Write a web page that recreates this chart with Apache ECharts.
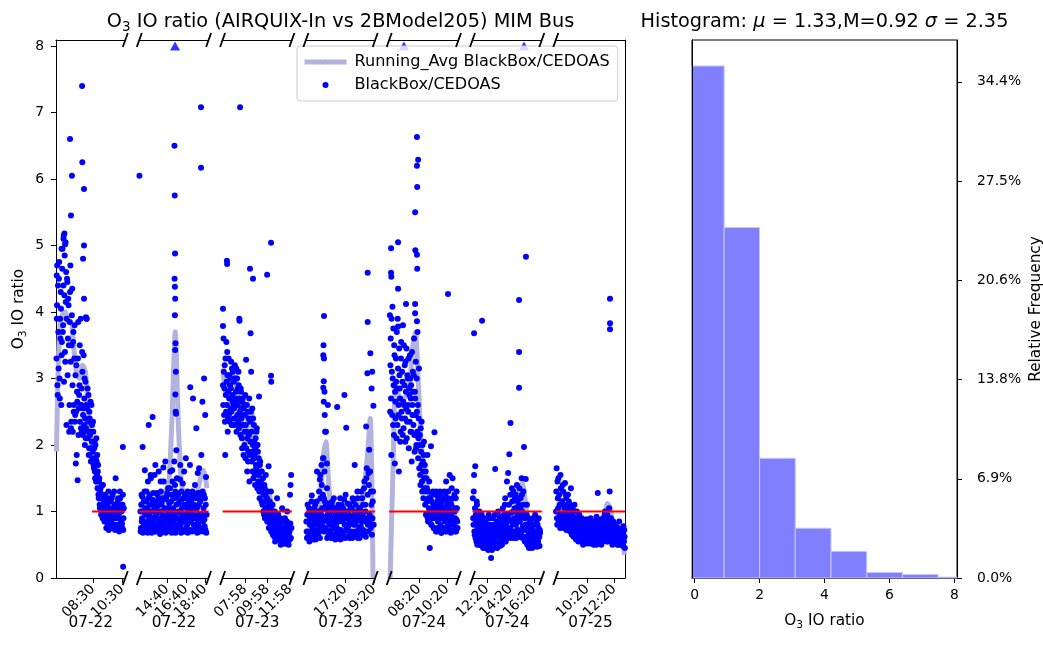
<!DOCTYPE html>
<html>
<head>
<meta charset="utf-8">
<script src="https://cdn.jsdelivr.net/npm/echarts@6/dist/echarts.min.js"></script>
<style>
  html, body { margin: 0; padding: 0; background: #fff; }
  #chart { width: 1043px; height: 655px; }
</style>
</head>
<body>
<div id="chart"></div>
<script>
// ---------------- data ----------------
// one entry per measurement period shown on the broken time axis
const segmentDates = ['07-22', '07-22', '07-23', '07-23', '07-24', '07-24', '07-25'];
const segmentWindows = [['05:57', '10:44'], ['11:45', '19:03'], ['05:59', '12:08'], ['14:38', '19:25'],
                        ['06:12', '11:09'], ['11:06', '17:00'], ['08:01', '13:09']];
const segmentTicks = [['08:30', '10:30'], ['14:40', '16:40', '18:40'], ['07:58', '09:58', '11:58'],
                      ['17:20', '19:20'], ['08:20', '10:20'], ['12:20', '14:20', '16:20'], ['10:20', '12:20']];

// regularly sampled O3 indoor/outdoor ratios (start time, step in minutes, values);
// the "b" arrays hold the readings taken half a step later
const sampleStart = ['05:59', '11:52', '06:01', '14:40', '06:16', '11:08', '08:02'];
const sampleStep = [2.5, 3.5, 3, 2.5, 2.5, 3, 2.65];

const ratio1 = [
  3.3, 4.1, 2.75, 3.7, 4.5, 3.0, 3.9, 4.3, 2.6, 3.55,
  4.95, 3.8, 5.15, 4.25, 3.4, 5.05, 4.6, 3.9, 4.45, 3.6,
  4.1, 2.2, 3.85, 4.7, 2.25, 3.5, 4.35, 2.2, 3.7, 2.6,
  3.8, 2.45, 1.72, 3.2, 2.8, 1.47, 3.85, 2.55, 2.9, 2.35,
  3.9, 2.6, 2.2, 3.1, 2.45, 3.35, 2.7, 2.0, 2.95, 2.25,
  3.9, 2.55, 2.1, 2.75, 1.95, 2.4, 2.2, 1.75, 2.6, 2.3,
  1.9, 2.2, 1.65, 2.05, 1.5, 1.8, 2.1, 1.55, 1.35, 1.7,
  1.2, 1.5, 1.05, 1.35, 0.95, 1.25, 1.1, 1.4, 0.9, 1.15,
  1.0, 0.85, 1.2, 0.95, 1.1, 0.8, 1.3, 0.9, 1.05, 0.75,
  1.15, 0.85, 1.0, 1.25, 0.78, 0.95, 1.1, 0.72, 1.5, 0.9,
  1.05, 0.8, 1.2, 0.95, 0.7, 1.3, 1.0, 0.85, 1.1, 0.75, 1.25, 0.9];
const ratio1b = [
  3.9, 2.9, 4.4, 3.15, 4.75, 2.7, 3.6, 4.05, 3.35, 4.65,
  3.7, 4.4, 2.95, 4.85, 3.25, 4.15, 2.3, 4.5, 3.05, 4.2,
  3.5, 2.6, 4.3, 3.25, 2.35, 3.95, 2.9, 3.55, 2.5, 3.3,
  2.35, 3.05, 2.5, 1.85, 2.65, 3.3, 2.15, 2.75, 3.5, 2.6,
  2.25, 2.85, 3.4, 2.15, 2.55, 2.3, 3.0, 2.4, 2.1, 2.6,
  2.2, 2.85, 2.35, 1.85, 2.5, 2.15, 2.65, 1.95, 2.05, 1.8,
  2.35, 1.7, 1.95, 1.6, 2.0, 1.45, 1.75, 1.85, 1.6, 1.25,
  1.45, 1.1, 1.3, 1.2, 1.0, 1.4, 0.9, 1.2, 1.05, 0.85,
  1.25, 0.95, 0.75, 1.1, 0.85, 1.2, 0.72, 1.0, 1.15, 0.8,
  0.92, 1.2, 0.75, 1.05, 0.9, 1.3, 0.8, 1.0, 1.1, 0.74,
  0.95, 1.15, 0.78, 1.05, 0.9, 1.2, 0.75, 1.0, 0.82, 1.1, 0.72, 1.05];
const ratio2 = [
  1.0, 0.75, 1.25, 0.9, 1.97, 0.7, 1.15, 0.85, 1.62, 1.05,
  0.8, 1.3, 0.95, 0.68, 1.2, 2.3, 0.9, 1.1, 0.75, 1.5,
  1.0, 0.72, 2.42, 1.28, 0.85, 1.05, 0.7, 1.7, 0.95, 1.15,
  0.8, 1.25, 0.9, 1.6, 0.72, 1.1, 0.85, 1.3, 1.0, 0.7,
  1.2, 0.88, 1.45, 0.75, 1.05, 1.75, 0.9, 1.22, 0.7, 1.0,
  1.35, 0.8, 1.12, 0.95, 1.6, 0.74, 1.25, 0.9, 1.45, 1.05,
  0.85, 1.2, 0.95, 1.3, 0.8, 1.1, 1.5, 0.9, 1.25, 0.75,
  1.15, 0.9, 1.7, 0.8, 1.3, 1.05, 0.72, 1.2, 0.95, 1.6,
  0.85, 1.25, 1.8, 0.75, 1.05, 1.3, 0.9, 1.15, 0.7, 1.0,
  2.87, 0.85, 1.2, 0.95, 1.3, 2.7, 0.8, 1.1, 0.9, 1.25,
  0.75, 2.25, 1.05, 0.88, 1.28, 0.95, 1.65, 0.7, 1.15, 0.9,
  1.85, 1.2, 2.65, 0.85, 1.05, 3.0, 0.78, 2.45, 1.1, 0.68];
const ratio2b = [
  0.7, 1.1, 0.85, 1.22, 0.68, 1.0, 0.8, 1.3, 0.95, 0.72,
  1.15, 0.78, 1.05, 1.45, 0.85, 0.7, 1.25, 0.92, 1.55, 0.82,
  0.68, 1.18, 0.9, 0.75, 1.1, 1.55, 0.8, 1.02, 0.7, 1.28,
  1.08, 0.74, 1.2, 0.88, 1.0, 0.66, 1.45, 0.78, 1.12, 0.95,
  0.8, 1.66, 0.7, 1.05, 0.92, 0.68, 1.18, 0.82, 1.28, 0.88,
  0.72, 1.05, 0.95, 1.35, 0.78, 1.15, 0.68, 1.62, 0.85, 1.2,
  1.0, 0.72, 1.4, 0.68, 1.22, 0.9, 0.75, 1.28, 1.0, 1.12,
  0.82, 1.48, 0.98, 0.68, 1.18, 0.86, 1.42, 0.9, 0.7, 1.1,
  1.25, 0.7, 0.95, 1.2, 0.8, 0.68, 1.28, 0.85, 1.1, 1.7,
  0.72, 1.15, 0.9, 0.7, 1.05, 1.25, 0.95, 0.72, 1.4, 0.8,
  1.2, 0.9, 0.68, 1.58, 0.8, 1.1, 0.72, 1.25, 0.92, 1.28,
  0.75, 0.95, 1.3, 0.7, 1.25, 0.88, 1.2, 0.72, 1.52, 0.95];
const ratio3 = [
  2.9, 3.6, 2.45, 3.2, 1.85, 2.75, 3.55, 2.6, 3.05, 2.4,
  3.3, 2.7, 2.35, 3.0, 2.85, 2.5, 3.15, 2.65, 2.3, 2.95,
  2.55, 3.2, 2.4, 2.8, 2.2, 3.0, 2.6, 2.35, 2.9, 3.9,
  2.5, 2.15, 2.8, 2.4, 1.95, 2.7, 2.3, 2.55, 2.0, 2.45,
  1.8, 3.28, 2.2, 1.6, 2.5, 1.9, 2.15, 1.45, 2.35, 3.68,
  3.1, 1.75, 2.55, 2.0, 1.5, 2.3, 1.85, 1.4, 2.1, 1.65,
  2.25, 1.35, 1.9, 1.55, 2.73, 1.2, 1.75, 1.45, 1.3, 1.6,
  1.1, 1.5, 1.25, 0.95, 1.35, 1.05, 1.55, 0.9, 1.2, 1.3,
  0.85, 1.68, 1.0, 1.15, 0.8, 1.3, 0.75, 0.95, 1.1, 0.7,
  0.9, 0.62, 1.0, 0.75, 0.85, 0.6, 1.2, 0.7, 0.95, 0.58,
  0.8, 0.65, 0.9, 0.55, 0.75, 1.05, 0.6, 0.85, 0.52, 0.7,
  0.9, 0.58, 0.75, 0.65, 1.0, 0.55, 0.8, 0.62, 0.7, 1.25, 1.4, 1.55];
const ratio3b = [
  2.6, 3.1, 2.85, 2.35, 3.3, 2.5, 2.95, 3.4, 2.2, 2.8,
  2.45, 3.05, 2.9, 2.55, 3.25, 2.3, 2.75, 3.1, 2.6, 2.4,
  3.0, 2.7, 2.3, 3.15, 2.65, 2.45, 2.85, 3.1, 2.25, 2.7,
  2.3, 2.85, 2.55, 2.1, 2.65, 2.45, 1.85, 2.6, 2.2, 2.75,
  2.3, 1.95, 2.6, 2.1, 1.75, 2.4, 2.7, 1.85, 2.05, 2.5,
  2.2, 1.9, 1.6, 2.4, 1.8, 2.05, 1.55, 1.95, 1.7, 2.2,
  1.6, 2.0, 1.45, 1.8, 1.3, 1.7, 1.4, 1.6, 1.15, 1.35,
  1.35, 1.0, 1.15, 1.4, 0.9, 1.25, 1.0, 1.2, 0.85, 1.05,
  1.1, 0.75, 0.95, 0.85, 1.05, 0.7, 0.9, 0.8, 0.65, 0.95,
  0.75, 0.85, 0.55, 0.8, 0.68, 0.92, 0.58, 0.75, 0.62, 0.85,
  0.6, 0.78, 0.5, 0.72, 0.62, 0.55, 0.88, 0.6, 0.7, 0.52,
  0.65, 0.78, 0.52, 0.85, 0.6, 0.72, 0.5, 0.68, 0.58, 0.82, 0.6, 0.75];
const ratio4 = [
  0.85, 0.6, 1.1, 0.7, 0.95, 0.55, 0.8, 1.0, 0.65, 1.24,
  0.75, 0.9, 0.58, 1.05, 0.7, 0.85, 0.62, 1.15, 0.8, 0.95,
  0.68, 1.3, 0.9, 1.55, 0.75, 1.7, 1.05, 0.85, 1.8, 1.2,
  0.9, 2.2, 1.1, 0.7, 1.35, 0.95, 0.62, 1.05, 0.8, 0.7,
  1.0, 0.6, 0.85, 1.15, 0.65, 0.9, 0.75, 1.05, 0.58, 0.8,
  0.95, 2.57, 0.7, 1.1, 0.62, 0.88, 1.2, 0.72, 0.95, 0.6,
  0.85, 1.05, 0.68, 2.75, 0.9, 1.25, 2.26, 0.75, 1.0, 0.62,
  0.82, 1.1, 0.65, 0.92, 0.7, 1.05, 0.6, 0.88, 1.15, 0.7,
  1.7, 0.8, 1.0, 0.65, 0.9, 1.2, 0.72, 0.95, 0.6, 1.05,
  0.78, 1.3, 0.85, 0.65, 1.1, 0.9, 1.45, 0.7, 1.0, 2.28,
  1.65, 3.08, 0.8, 1.58, 1.93, 0.95, 3.38, 1.3, 2.85, 3.1, 1.15, 2.59];
const ratio4b = [
  0.7, 0.95, 0.62, 0.85, 1.05, 0.68, 0.9, 0.58, 1.15, 0.78,
  0.95, 0.6, 0.82, 0.7, 1.1, 0.58, 0.88, 0.72, 1.0, 0.62,
  0.85, 1.0, 0.6, 1.2, 0.95, 1.4, 0.8, 1.25, 0.7, 1.05,
  1.15, 0.75, 0.92, 1.05, 0.6, 0.85, 1.12, 0.66, 0.95, 0.85,
  0.72, 0.9, 1.08, 0.6, 0.8, 1.2, 0.62, 0.88, 0.95, 0.68,
  0.75, 1.05, 0.6, 0.85, 1.0, 0.7, 0.58, 0.92, 1.1, 0.66,
  0.95, 0.7, 1.18, 0.8, 0.6, 1.0, 0.72, 0.9, 1.12, 0.78,
  0.95, 0.6, 0.85, 1.05, 0.68, 0.9, 1.2, 0.64, 0.8, 0.95,
  0.62, 1.1, 0.85, 0.7, 1.3, 0.6, 0.88, 1.05, 0.75, 0.92,
  1.0, 0.68, 1.2, 0.95, 0.72, 1.35, 0.85, 1.1, 0.62, 1.5,
  0.9, 1.25, 0.7, 1.4, 0.85, 1.6, 0.75, 1.1, 0.65, 0.9, 1.3, 0.8];
const ratio5 = [
  2.5, 3.6, 1.85, 3.1, 4.08, 2.3, 2.9, 3.5, 1.72, 2.65,
  3.3, 2.1, 2.85, 3.9, 2.45, 1.6, 3.05, 2.7, 2.2, 3.55,
  2.4, 2.95, 3.8, 2.25, 2.6, 3.2, 2.05, 2.8, 3.45, 2.35,
  3.0, 2.5, 1.95, 2.75, 3.35, 2.2, 2.9, 1.75, 2.6, 3.1,
  2.3, 3.6, 1.9, 2.7, 3.25, 2.0, 2.5, 3.7, 1.8, 2.4,
  1.65, 2.15, 1.4, 1.9, 2.35, 1.3, 1.75, 1.2, 2.05, 1.5,
  1.1, 1.6, 0.95, 1.35, 1.85, 0.85, 1.2, 1.45, 0.45, 1.0,
  1.98, 0.8, 1.25, 0.95, 1.1, 0.75, 2.19, 1.05, 0.9, 1.3,
  0.7, 1.15, 0.85, 1.0, 1.25, 0.72, 0.95, 1.1, 0.68, 1.2,
  0.9, 1.05, 0.75, 1.3, 0.85, 1.0, 1.45, 0.7, 1.15, 0.9,
  1.2, 0.78, 1.55, 0.95, 0.68, 1.1, 0.85, 1.5, 1.0, 0.72,
  1.25, 0.9, 1.05, 0.7, 1.3, 0.85];
const ratio5b = [
  3.2, 2.7, 3.9, 2.45, 3.0, 3.75, 2.15, 3.35, 2.8, 2.4,
  2.95, 3.7, 2.3, 3.15, 2.6, 3.45, 2.85, 2.05, 3.3, 2.5,
  3.1, 2.15, 2.65, 3.5, 2.9, 2.4, 3.25, 2.55, 2.1, 3.05,
  2.6, 3.3, 2.85, 2.35, 3.0, 2.7, 2.2, 3.4, 2.45, 2.8,
  3.05, 2.15, 2.8, 2.45, 1.95, 3.0, 2.2, 2.6, 2.1, 3.15,
  2.0, 1.55, 2.25, 1.7, 1.45, 2.0, 1.6, 1.85, 1.35, 1.7,
  1.3, 0.95, 1.5, 1.15, 0.9, 1.3, 1.05, 0.85, 1.2, 0.95,
  0.8, 1.15, 0.9, 1.3, 0.75, 1.05, 0.95, 1.25, 0.7, 1.1,
  1.0, 0.75, 1.2, 0.88, 1.05, 1.3, 0.8, 0.68, 1.15, 0.92,
  1.2, 0.72, 1.0, 0.88, 1.25, 0.7, 0.95, 1.1, 0.78, 1.3,
  0.85, 1.05, 0.72, 1.15, 0.95, 1.35, 0.7, 0.9, 1.2, 0.8,
  1.0, 0.7, 1.2, 0.88, 1.05, 0.75];
const ratio6 = [
  1.2, 0.8, 1.55, 0.65, 1.68, 0.95, 0.55, 1.1, 0.75, 0.9,
  0.6, 1.0, 0.5, 0.85, 0.7, 0.95, 0.48, 0.8, 0.62, 0.9,
  0.55, 0.75, 0.45, 0.88, 0.6, 0.7, 0.42, 0.95, 0.58, 0.8,
  0.5, 0.3, 0.72, 0.62, 0.9, 0.45, 0.68, 0.55, 1.64, 0.78,
  0.6, 0.85, 0.5, 1.0, 0.65, 0.75, 0.48, 0.92, 0.7, 0.58,
  0.8, 1.05, 0.62, 0.95, 0.72, 1.2, 0.55, 0.85, 1.45, 0.68,
  1.58, 0.9, 1.86, 0.75, 2.33, 0.98, 0.62, 1.15, 0.8, 1.3,
  0.7, 1.05, 0.88, 1.25, 0.6, 1.4, 0.95, 0.72, 1.1, 1.35,
  0.85, 1.2, 0.68, 1.5, 1.0, 0.78, 1.3, 1.97, 0.9, 0.62,
  1.49, 0.8, 1.1, 0.55, 0.7, 0.9, 0.48, 0.65, 0.82, 0.52,
  0.75, 0.45, 0.9, 0.6, 0.7, 0.5, 0.95, 0.58, 0.68, 0.47,
  0.8, 0.55, 0.9, 0.62, 0.72];
const ratio6b = [
  0.9, 1.3, 0.7, 1.05, 0.6, 0.85, 1.15, 0.5, 0.95, 0.68,
  0.8, 0.5, 0.72, 0.95, 0.58, 0.82, 0.66, 0.45, 0.75, 0.55,
  0.88, 0.5, 0.68, 0.58, 0.8, 0.45, 0.62, 0.72, 0.5, 0.9,
  0.65, 0.78, 0.42, 0.58, 0.48, 0.8, 0.55, 0.95, 0.62, 0.5,
  0.72, 0.45, 0.68, 0.8, 0.52, 0.9, 0.6, 0.7, 0.82, 0.5,
  0.65, 0.75, 0.9, 0.55, 1.1, 0.68, 0.82, 0.6, 0.95, 0.75,
  0.65, 1.1, 0.7, 1.25, 0.6, 0.85, 1.35, 0.7, 1.0, 0.6,
  0.9, 1.2, 0.65, 0.8, 1.0, 0.72, 1.15, 0.62, 0.9, 0.7,
  1.05, 0.62, 0.92, 1.25, 0.6, 1.1, 0.72, 0.95, 0.55, 0.8,
  0.6, 0.95, 0.5, 0.78, 0.62, 0.45, 0.7, 0.85, 0.55, 0.65,
  0.5, 0.72, 0.58, 0.8, 0.48, 0.62, 0.7, 0.52, 0.85, 0.6,
  0.5, 0.75, 0.62, 0.48, 0.68];
const ratio7 = [
  1.0, 1.65, 0.8, 1.2, 1.5, 0.9, 1.1, 0.75, 1.35, 0.95,
  1.15, 0.85, 1.3, 0.78, 1.05, 1.43, 0.9, 1.2, 0.82, 1.0,
  1.25, 0.72, 0.95, 1.1, 0.8, 1.35, 0.88, 0.7, 1.05, 0.92,
  0.75, 1.1, 0.65, 0.9, 0.8, 1.0, 0.6, 0.85, 0.72, 0.95,
  0.62, 0.8, 0.7, 0.9, 0.58, 0.75, 0.85, 0.55, 0.68, 0.8,
  0.6, 0.72, 0.88, 0.52, 0.7, 0.82, 0.6, 0.65, 0.9, 0.55,
  0.75, 0.62, 0.85, 0.5, 0.7, 0.8, 0.58, 0.66, 0.92, 0.6,
  1.28, 0.7, 0.55, 0.85, 0.62, 0.75, 0.5, 0.8, 0.65, 0.9,
  0.58, 0.72, 1.0, 0.6, 0.85, 0.68, 0.95, 0.55, 0.8, 1.05,
  1.3, 0.7, 0.9, 0.6, 0.78, 0.52, 0.85, 0.65, 0.72, 0.55,
  0.8, 0.6, 0.7, 0.5, 0.75, 0.62, 0.85, 0.55, 0.68, 0.58,
  0.72, 0.5, 0.65, 0.78, 0.55, 0.62];
const ratio7b = [
  1.3, 0.9, 1.45, 1.05, 0.85, 1.25, 0.95, 1.55, 0.8, 1.15,
  0.92, 1.4, 0.75, 1.1, 0.95, 0.8, 1.25, 0.72, 1.05, 0.9,
  0.78, 1.15, 0.85, 0.7, 1.0, 0.82, 0.65, 0.95, 0.75, 0.62,
  0.9, 0.7, 0.85, 0.58, 0.75, 0.65, 0.9, 0.55, 0.8, 0.68,
  0.75, 0.55, 0.85, 0.62, 0.78, 0.5, 0.68, 0.72, 0.6, 0.88,
  0.7, 0.55, 0.65, 0.8, 0.58, 0.62, 0.75, 0.52, 0.7, 0.82,
  0.6, 0.7, 0.55, 0.78, 0.62, 0.58, 0.85, 0.5, 0.72, 0.65,
  0.8, 0.6, 0.75, 0.52, 0.7, 0.88, 0.62, 0.56, 0.78, 0.68,
  0.72, 0.95, 0.62, 0.8, 0.55, 0.7, 0.88, 0.65, 0.75, 0.6,
  0.82, 0.58, 0.68, 0.78, 0.5, 0.72, 0.6, 0.8, 0.55, 0.7,
  0.62, 0.52, 0.75, 0.6, 0.5, 0.68, 0.58, 0.72, 0.5, 0.65,
  0.55, 0.7, 0.48, 0.6, 0.72, 0.45];
const ratios = [ratio1, ratio2, ratio3, ratio4, ratio5, ratio6, ratio7];
const ratiosB = [ratio1b, ratio2b, ratio3b, ratio4b, ratio5b, ratio6b, ratio7b];

// isolated high readings [time, ratio]
const extra1 = [['07:45', 7.4], ['06:55', 6.6], ['07:46', 6.25], ['07:03', 6.05], ['07:53', 5.85], ['06:59', 5.45],
  ['07:53', 5.0], ['07:49', 4.8], ['07:53', 4.2], ['08:01', 3.92], ['08:03', 3.9], ['06:32', 5.18], ['06:28', 5.1],
  ['06:35', 5.02], ['06:20', 4.95], ['06:02', 4.7], ['06:00', 4.55], ['10:34', 1.97], ['10:35', 0.17]];
const extra2 = [['11:46', 6.05], ['15:27', 6.5], ['15:29', 5.75], ['15:31', 4.88], ['15:28', 4.5], ['15:30', 4.38],
  ['15:32', 4.2], ['15:30', 3.95], ['15:34', 3.53], ['15:32', 3.43], ['15:36', 3.1], ['15:33', 2.76], ['15:35', 2.5],
  ['15:37', 2.47], ['15:39', 1.92], ['15:26', 1.75], ['18:15', 7.08], ['18:15', 6.17]];
const extra3 = [['06:22', 4.77], ['06:23', 4.72], ['06:01', 4.05], ['06:01', 3.79], ['07:32', 7.08], ['07:29', 3.87],
  ['08:25', 4.65], ['08:41', 4.5], ['09:56', 4.56], ['10:17', 5.04], ['10:17', 3.04], ['10:18', 2.95]];
const extra4 = [['15:53', 3.94], ['15:51', 3.5], ['15:50', 3.35], ['15:53', 3.3], ['15:52', 2.96], ['15:50', 2.86],
  ['15:55', 2.8], ['15:52', 2.65], ['16:09', 2.6], ['15:56', 2.45], ['16:01', 2.2], ['15:49', 1.8], ['16:05', 1.72],
  ['15:55', 1.6], ['15:36', 1.48], ['15:24', 1.6], ['18:54', 4.59], ['18:54', 3.85]];
const extra5 = [['06:20', 4.96], ['06:50', 5.05], ['06:20', 4.59], ['06:21', 4.53], ['06:50', 4.35], ['07:24', 4.12],
  ['08:03', 4.12], ['08:03', 3.98], ['08:11', 3.86], ['06:15', 3.95], ['06:50', 3.78], ['08:11', 6.63], ['08:16', 6.29],
  ['08:11', 6.2], ['08:12', 5.88], ['08:03', 5.5], ['08:04', 4.93], ['08:11', 4.86], ['08:12', 4.65], ['10:24', 4.27]];
const extra6 = [['11:14', 3.68], ['11:55', 3.87], ['15:04', 4.18], ['15:04', 3.4], ['15:04', 2.86], ['15:39', 4.83]];
const extra7 = [['12:02', 4.2], ['12:02', 3.83], ['12:02', 3.74]];
const extras = [extra1, extra2, extra3, extra4, extra5, extra6, extra7];

// readings above the plotted range: [segment number, time]
const overflow = [[2, '15:31'], [5, '07:15'], [6, '15:29']];

// running average (start time, step in minutes, values)
const avgStart = ['05:59', '11:52', '06:01', '14:40', '06:16', '11:08', '08:02'];
const avgStep = [12, 20, 15, 11.5, 12, 14, 12.7];
const avg1 = [1.9, 3.7, 3.95, 4.0, 3.85, 3.85, 3.45, 3.05, 3.0, 3.2, 3.1, 2.5, 2.05, 1.8, 1.45, 1.17, 1.02, 1.0, 1.0, 0.98, 1.02, 0.97, 1.0, 1.0];
const avg2 = [1.05, 1.1, 1.15, 1.2, 1.15, 1.1, 1.2, 1.25, 1.3, 1.45, 2.4, 3.7, 2.3, 1.4, 1.25, 1.2, 1.25, 1.2, 1.3, 1.5, 1.62, 1.35];
const avg3 = [3.15, 2.75, 2.85, 3.0, 3.1, 2.8, 2.55, 2.2, 2.05, 2.45, 2.55, 1.95, 1.65, 1.55, 1.4, 1.3, 1.3, 1.15, 0.95, 0.85, 0.8, 0.75, 0.72, 0.7, 0.68];
const avg4 = [0.85, 0.8, 0.82, 0.88, 0.95, 1.2, 1.8, 2.05, 1.45, 0.95, 0.88, 0.85, 0.9, 0.95, 0.92, 0.95, 0.9, 1.0, 0.95, 1.05, 1.2, 1.45, 1.85, 2.4, 0];
const avg5 = [0, 1.6, 2.9, 2.75, 2.6, 2.7, 2.75, 2.9, 3.45, 3.7, 3.0, 2.1, 1.65, 1.4, 1.25, 1.15, 1.08, 1.05, 1.0, 0.98, 1.0, 1.02, 0.98, 0.95, 0.95];
const avg6 = [0.95, 0.85, 0.75, 0.7, 0.65, 0.62, 0.6, 0.62, 0.65, 0.7, 0.72, 0.78, 0.82, 0.88, 0.95, 1.0, 1.1, 1.3, 1.43, 1.2, 0.85, 0.7, 0.65, 0.62, 0.6, 0.6];
const avg7 = [0.95, 1.0, 1.0, 0.95, 0.92, 0.9, 0.85, 0.8, 0.78, 0.75, 0.74, 0.72, 0.72, 0.73, 0.74, 0.75, 0.78, 0.85, 1.12, 1.05, 0.8, 0.7, 0.65, 0.55, 0.35];
const avgs = [avg1, avg2, avg3, avg4, avg5, avg6, avg7];

// reference ratio of 1 drawn over these spans
const refLevel = 1;
const refSpans = [['08:26', '10:44'], ['11:45', '19:03'], ['05:59', '12:08'], ['14:38', '19:25'],
                  ['06:12', '11:09'], ['11:06', '17:00'], ['08:01', '13:09']];

const ratioTicks = [0, 1, 2, 3, 4, 5, 6, 7, 8];

// histogram of all ratios
const binEdges = [-0.19, 0.91, 2.0, 3.1, 4.2, 5.3, 6.4, 7.5, 8.6];
const binFreq = [35.5, 24.3, 8.3, 3.45, 1.85, 0.38, 0.24, 0.06];   // percent
const freqTicks = [0, 6.88, 13.76, 20.64, 27.52, 34.4];
const histTicks = [0, 2, 4, 6, 8];

// ---------------- layout ----------------
const FONT = 'DejaVu Sans';
const FS = 13.9;        // tick labels
const FS_LABEL = 15.3;  // axis names and dates
const FS_LEGEND = 16.1;
const FS_TITLE = 19.3;
const TOP = 40, HEIGHT = 538;
const PANEL_LEFT = 56, SEG_W = 69.3, SEG_GAP = 14;
const Y_MAX = 8.09;
const BLUE = '#0000ff';
const AVG_COLOR = '#b3b3dd';

const toMin = s => { const p = s.split(':').map(Number); return p[0] * 60 + p[1]; };
const hhmm = v => {
  const m = Math.round(v);
  return String(Math.floor(m / 60)).padStart(2, '0') + ':' + String(m % 60).padStart(2, '0');
};
const subRich = {
  n: { fontFamily: FONT, fontSize: FS_LABEL, color: '#000', lineHeight: 20 },
  s: { fontFamily: FONT, fontSize: FS_LABEL * 0.7, color: '#000', verticalAlign: 'bottom', lineHeight: 12 }
};
const tickText = { fontFamily: FONT, fontSize: FS, color: '#000' };
const labelText = { fontFamily: FONT, fontSize: FS_LABEL, color: '#000' };
const blackLine = { color: '#000', width: 1 };

const grids = [], xAxes = [], yAxes = [], series = [], graphics = [];

for (let i = 0; i < 7; i++) {
  const left = PANEL_LEFT + i * (SEG_W + SEG_GAP);
  grids.push({ left: left, top: TOP, width: SEG_W, height: HEIGHT, containLabel: false, outerBoundsMode: 'none' });
  const w0 = toMin(segmentWindows[i][0]), w1 = toMin(segmentWindows[i][1]);
  const ticks = segmentTicks[i].map(toMin);
  // alternate labels go on two stacked bottom axes so closely spaced ones are all kept
  const ticksA = ticks.filter((t, k) => k % 2 === 0);
  const ticksB = ticks.filter((t, k) => k % 2 === 1);
  const labelOpts = vals => ({ customValues: vals, formatter: hhmm, rotate: 45, margin: 9, hideOverlap: false,
                               showMinLabel: true, showMaxLabel: true, ...tickText });
  xAxes.push({
    gridIndex: i, type: 'value', position: 'bottom', min: w0, max: w1,
    splitLine: { show: false },
    axisLine: { onZero: false, lineStyle: blackLine },
    axisTick: { length: 5, customValues: ticks, lineStyle: blackLine },
    axisLabel: labelOpts(ticksA),
    name: segmentDates[i], nameLocation: 'middle', nameGap: 38, nameMoveOverlap: false,
    nameTextStyle: { ...labelText }
  });
  xAxes.push({
    gridIndex: i, type: 'value', position: 'top', min: w0, max: w1,
    splitLine: { show: false }, axisTick: { show: false }, axisLabel: { show: false },
    axisLine: { onZero: false, lineStyle: blackLine }
  });
  xAxes.push({
    gridIndex: i, type: 'value', position: 'bottom', offset: 0, min: w0, max: w1,
    splitLine: { show: false }, axisTick: { show: false },
    axisLine: { show: false, onZero: false },
    axisLabel: ticksB.length ? labelOpts(ticksB) : { show: false }
  });
  if (i === 0) {
    yAxes.push({
      gridIndex: i, type: 'value', min: 0, max: Y_MAX,
      splitLine: { show: false },
      axisLine: { show: true, onZero: false, lineStyle: blackLine },
      axisTick: { show: true, length: 5, customValues: ratioTicks, lineStyle: blackLine },
      axisLabel: { customValues: ratioTicks, margin: 12, hideOverlap: false,
                   showMinLabel: true, showMaxLabel: true, ...tickText },
      name: '{n|O}{s|3}{n| IO ratio}', nameLocation: 'middle', nameRotate: 90, nameGap: 27,
      nameMoveOverlap: false,
      nameTextStyle: { rich: subRich }
    });
  } else if (i === 6) {
    yAxes.push({
      gridIndex: i, type: 'value', min: 0, max: Y_MAX, position: 'right',
      splitLine: { show: false }, axisTick: { show: false }, axisLabel: { show: false },
      axisLine: { show: true, onZero: false, lineStyle: blackLine }
    });
  } else {
    yAxes.push({ gridIndex: i, type: 'value', min: 0, max: Y_MAX, show: false });
  }

  const xi = 3 * i;

  // running average
  const a0 = toMin(avgStart[i]);
  series.push({
    name: 'Running_Avg BlackBox/CEDOAS', type: 'line', xAxisIndex: xi, yAxisIndex: i,
    data: avgs[i].map((v, k) => [a0 + k * avgStep[i], v]),
    showSymbol: false, symbol: 'none', smooth: 0.25, clip: true, z: 2,
    lineStyle: { color: AVG_COLOR, width: 5 }, itemStyle: { color: AVG_COLOR }
  });

  // scatter of individual ratios
  const s0 = toMin(sampleStart[i]);
  const dt = sampleStep[i];
  const pts = ratios[i].map((v, k) => [s0 + k * dt, v])
    .concat(ratiosB[i].map((v, k) => [s0 + (k + 0.5) * dt, v]))
    .concat(extras[i].map(e => [toMin(e[0]), e[1]]));
  series.push({
    name: 'BlackBox/CEDOAS', type: 'scatter', xAxisIndex: xi, yAxisIndex: i,
    data: pts, symbolSize: 6, itemStyle: { color: BLUE, opacity: 1 }, z: 3, clip: true
  });

  // reference line at ratio 1
  series.push({
    name: 'ref', type: 'line', xAxisIndex: xi, yAxisIndex: i,
    data: [[toMin(refSpans[i][0]), refLevel], [toMin(refSpans[i][1]), refLevel]],
    showSymbol: false, symbol: 'none', lineStyle: { color: '#ff0000', width: 2 }, z: 4, silent: true
  });

  // off-scale markers
  const over = overflow.filter(o => o[0] === i + 1).map(o => [toMin(o[1]), 8.0]);
  if (over.length) {
    series.push({
      name: 'over', type: 'scatter', xAxisIndex: xi, yAxisIndex: i, data: over,
      symbol: 'triangle', symbolSize: [10, 9], itemStyle: { color: BLUE }, z: 3, clip: false, silent: true
    });
  }
}

// axis-break marks at the inner segment edges
const breakMark = (x, y) => ({
  type: 'line', silent: true, z: 10,
  shape: { x1: x - 2.5, y1: y + 7, x2: x + 2.5, y2: y - 7 },
  style: { stroke: '#000', lineWidth: 1.8 }
});
for (let i = 0; i < 7; i++) {
  const left = PANEL_LEFT + i * (SEG_W + SEG_GAP);
  const right = left + SEG_W;
  [TOP, TOP + HEIGHT].forEach(y => {
    if (i > 0) graphics.push(breakMark(left, y));
    if (i < 6) graphics.push(breakMark(right, y));
  });
}

// histogram panel
const HIST_LEFT = 692, HIST_W = 265;
const HX = xAxes.length;
grids.push({ left: HIST_LEFT, top: TOP, width: HIST_W, height: HEIGHT, show: true,
  borderColor: '#000', borderWidth: 1, backgroundColor: 'transparent', containLabel: false, outerBoundsMode: 'none' });
xAxes.push({
  gridIndex: 7, type: 'value', min: -0.08, max: 8.08, splitLine: { show: false },
  axisLine: { onZero: false, lineStyle: blackLine },
  axisTick: { length: 5, customValues: histTicks, lineStyle: blackLine },
  axisLabel: { customValues: histTicks, margin: 10, hideOverlap: false,
               showMinLabel: true, showMaxLabel: true, ...tickText },
  name: '{n|O}{s|3}{n| IO ratio}', nameLocation: 'middle', nameGap: 33, nameMoveOverlap: false,
  nameTextStyle: { rich: subRich }
});
yAxes.push({
  gridIndex: 7, type: 'value', position: 'right', min: 0, max: 37.3, splitLine: { show: false },
  axisLine: { show: true, onZero: false, lineStyle: blackLine },
  axisTick: { show: true, length: 5, customValues: freqTicks, lineStyle: blackLine },
  axisLabel: { customValues: freqTicks, formatter: v => v.toFixed(1) + '%', margin: 20, hideOverlap: false,
               showMinLabel: true, showMaxLabel: true, ...tickText },
  name: 'Relative Frequency', nameLocation: 'middle', nameRotate: 90, nameGap: 72, nameMoveOverlap: false,
  nameTextStyle: { ...labelText }
});
yAxes.push({
  gridIndex: 7, type: 'value', position: 'left', min: 0, max: 37.3, z: 5,
  splitLine: { show: false }, axisTick: { show: false }, axisLabel: { show: false },
  axisLine: { show: true, onZero: false, lineStyle: blackLine }
});
series.push({
  name: 'hist', type: 'custom', xAxisIndex: HX, yAxisIndex: 7, silent: true, z: 2,
  data: binFreq.map((f, k) => [binEdges[k], binEdges[k + 1], f]),
  encode: { x: [0, 1], y: 2 },
  renderItem: (params, api) => {
    const p0 = api.coord([api.value(0), api.value(2)]);
    const p1 = api.coord([api.value(1), 0]);
    const cs = params.coordSys;
    const r = echarts.graphic.clipRectByRect(
      { x: p0[0], y: p0[1], width: p1[0] - p0[0], height: p1[1] - p0[1] },
      { x: cs.x, y: cs.y, width: cs.width, height: cs.height });
    if (!r) return null;
    return { type: 'rect', shape: r, style: { fill: '#8080ff', stroke: '#c6c6ff', lineWidth: 1 } };
  }
});

// titles
const titleRich = {
  n: { fontFamily: FONT, fontSize: FS_TITLE, fill: '#000', lineHeight: 24 },
  s: { fontFamily: FONT, fontSize: FS_TITLE * 0.7, fill: '#000', verticalAlign: 'bottom', lineHeight: 14 },
  i: { fontFamily: FONT, fontSize: FS_TITLE, fontStyle: 'italic', fill: '#000', lineHeight: 24 }
};
graphics.push({
  type: 'text', x: PANEL_LEFT + (7 * SEG_W + 6 * SEG_GAP) / 2, y: 22, z: 10,
  style: { text: '{n|O}{s|3}{n| IO ratio (AIRQUIX-In vs 2BModel205) MIM Bus}', rich: titleRich,
           align: 'center', verticalAlign: 'middle' }
});
graphics.push({
  type: 'text', x: HIST_LEFT + HIST_W / 2, y: 22, z: 10,
  style: { text: '{n|Histogram: }{i|\u03bc}{n| = 1.33,M=0.92 }{i|\u03c3}{n| = 2.35}', rich: titleRich,
           align: 'center', verticalAlign: 'middle' }
});

const chart = echarts.init(document.getElementById('chart'), null, { renderer: 'canvas' });
chart.setOption({
  animation: false,
  backgroundColor: '#ffffff',
  grid: grids,
  xAxis: xAxes,
  yAxis: yAxes,
  legend: {
    data: [{ name: 'Running_Avg BlackBox/CEDOAS' }, { name: 'BlackBox/CEDOAS', icon: 'circle' }],
    orient: 'vertical', left: 297, top: 46, padding: [8, 8, 8, 5],
    itemWidth: 42, itemHeight: 6, itemGap: 7, selectedMode: false,
    backgroundColor: 'rgba(255,255,255,0.8)', borderColor: '#cccccc', borderWidth: 1, borderRadius: 3,
    lineStyle: { width: 5 },
    textStyle: { fontFamily: FONT, fontSize: FS_LEGEND, color: '#000', padding: [0, 0, 0, 3] }
  },
  graphic: graphics,
  series: series
});
</script>
</body>
</html>
